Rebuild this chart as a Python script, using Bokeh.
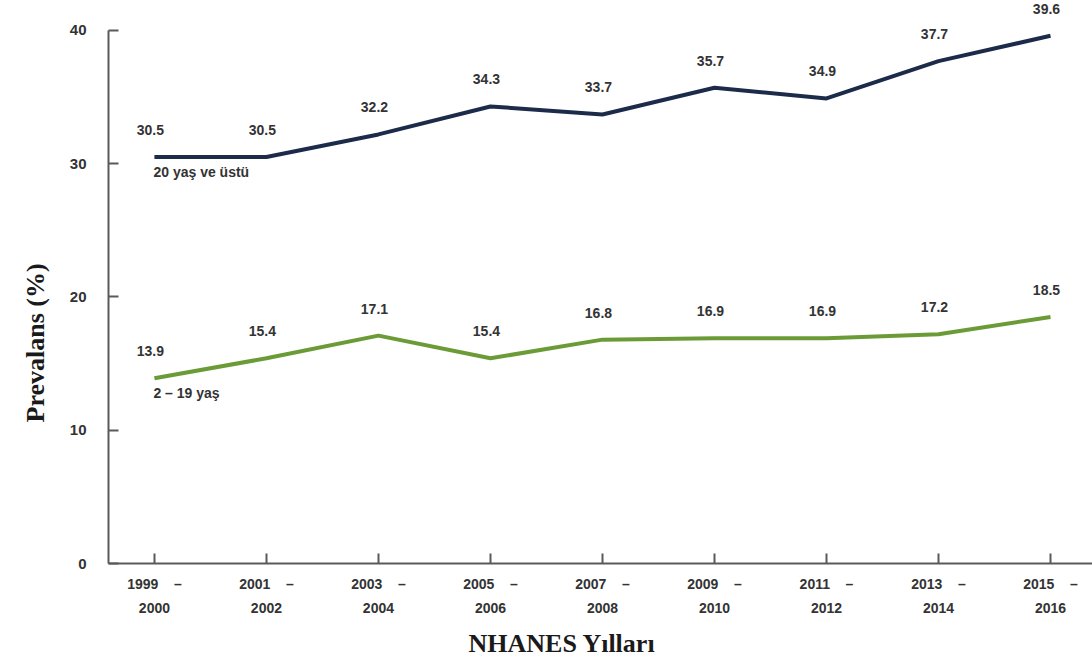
from bokeh.plotting import figure
from bokeh.models import ColumnDataSource, LabelSet, Label, FixedTicker, Range1d, Title
from bokeh.core.properties import value
from bokeh.embed import file_html
from bokeh.resources import INLINE

# NHANES survey cycles
period_start = ["1999", "2001", "2003", "2005", "2007", "2009", "2011", "2013", "2015"]
period_end = ["2000", "2002", "2004", "2006", "2008", "2010", "2012", "2014", "2016"]

# Obesity prevalence (%)
adults = [30.5, 30.5, 32.2, 34.3, 33.7, 35.7, 34.9, 37.7, 39.6]
youth = [13.9, 15.4, 17.1, 15.4, 16.8, 16.9, 16.9, 17.2, 18.5]

series_names = ["20 yaş ve üstü", "2 – 19 yaş"]
y_ticks = [0, 10, 20, 30, 40]

x_title = "NHANES Yılları"
y_title = "Prevalans (%)"

NAVY = "#1d2b4b"
GREEN = "#6b9b37"
TEXT = "#333333"
AXIS = "#5a5a5a"
SANS = "Liberation Sans"
SERIF = "Liberation Serif"
NBSP = "\u00a0"

idx = list(range(len(period_start)))
X0, X1 = -0.41, 8.375

src = ColumnDataSource(dict(
    x=idx,
    adults=adults,
    youth=youth,
    adults_txt=[f"{v:.1f}" for v in adults],
    youth_txt=[f"{v:.1f}" for v in youth],
))

p = figure(width=1092, height=672, output_backend="svg", toolbar_location=None,
           x_range=Range1d(X0, X1), y_range=Range1d(0, 42.25),
           min_border_left=108, min_border_right=0, min_border_top=0,
           min_border_bottom=109)
p.outline_line_color = None
p.xgrid.visible = False
p.ygrid.visible = False

# main axes: ticks pointing inward
for ax in (p.xaxis[0], p.yaxis[0]):
    ax.axis_line_color = AXIS
    ax.axis_line_width = 2
    ax.major_tick_line_color = AXIS
    ax.major_tick_line_width = 2
    ax.major_tick_in = 10
    ax.major_tick_out = 0
    ax.minor_tick_line_color = None
    ax.major_label_text_font = SANS
    ax.major_label_text_font_style = "bold"
    ax.major_label_text_color = TEXT

p.yaxis.ticker = FixedTicker(ticks=y_ticks)
p.yaxis.bounds = (0, 40)
p.yaxis.major_label_text_font_size = "15px"
p.yaxis.major_label_standoff = 22

# two-line period labels, e.g. "1999 –" over "2000"
p.xaxis.ticker = FixedTicker(ticks=idx)
p.xaxis.major_label_overrides = {i: f"{a}{NBSP * 4}–\n{b}" for i, a, b in
                                 zip(idx, period_start, period_end)}
p.xaxis.major_label_text_font_size = "14px"
p.xaxis.major_label_text_line_height = 1.55
p.xaxis.major_label_standoff = 12

title_kw = dict(text_font=SERIF, text_font_style="bold", text_font_size="26px",
                text_color="#1a1a1a", align="left", vertical_align="top")
has_standoff = "standoff" in Title.properties()
xt = Title(text=x_title, offset=360, **title_kw)
yt = Title(text=y_title, offset=141, **title_kw)
if has_standoff:
    xt.standoff = 18
    yt.standoff = 30
p.add_layout(xt, "below")
p.add_layout(yt, "left")

p.line("x", "adults", source=src, line_color=NAVY, line_width=4)
p.line("x", "youth", source=src, line_color=GREEN, line_width=4)

label_kw = dict(text_font=value(SANS), text_font_style="bold", text_font_size="14px",
                text_color=TEXT, text_align="center", text_baseline="middle")

p.add_layout(LabelSet(x="x", y="adults", text="adults_txt", source=src,
                      x_offset=-4, y_offset=27, **label_kw))
p.add_layout(LabelSet(x="x", y="youth", text="youth_txt", source=src,
                      x_offset=-4, y_offset=27, **label_kw))

# series names beneath the first point of each line
for name, vals in zip(series_names, (adults, youth)):
    p.add_layout(Label(x=idx[0], y=vals[0], text=name, x_offset=-1, y_offset=-15,
                       text_font=SANS, text_font_style="bold", text_font_size="14px",
                       text_color=TEXT, text_align="left", text_baseline="middle"))

open("out.html", "w").write(file_html(p, INLINE))
